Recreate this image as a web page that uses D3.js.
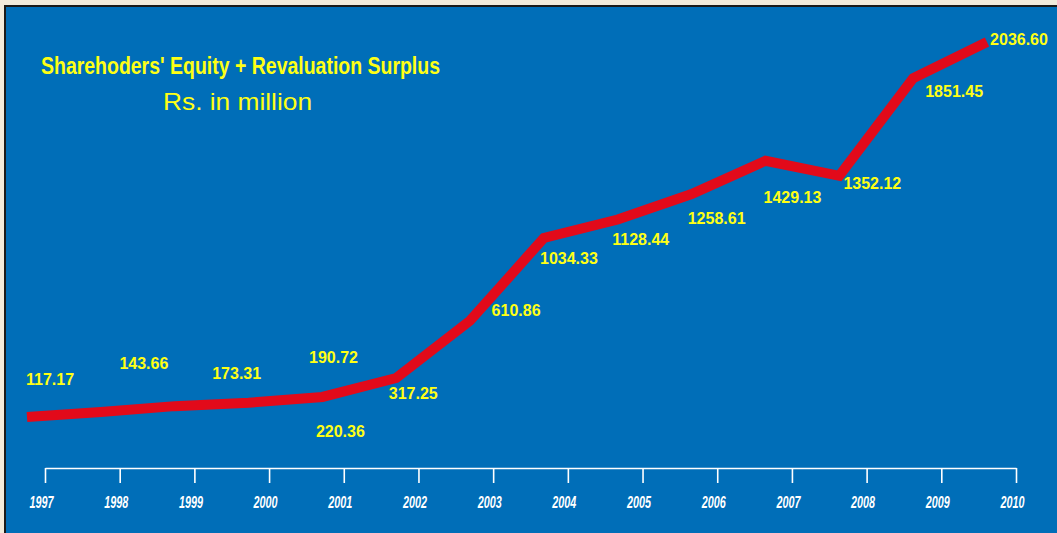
<!DOCTYPE html>
<html>
<head>
<meta charset="utf-8">
<script src="https://cdn.jsdelivr.net/npm/d3@7"></script>
<style>
  html, body { margin: 0; padding: 0; background: #f2ebdc; }
  svg { display: block; }
</style>
</head>
<body>
<svg id="chart" width="1057" height="533"></svg>
<script>
// Shareholders' equity + revaluation surplus, Rs. in million
const years = ["1997", "1998", "1999", "2000", "2001", "2002", "2003",
               "2004", "2005", "2006", "2007", "2008", "2009", "2010"];
const equity = [117.17, 143.66, 173.31, 190.72, 220.36, 317.25, 610.86,
                1034.33, 1128.44, 1258.61, 1429.13, 1352.12, 1851.45, 2036.60];
const valueLabels = ["117.17", "143.66", "173.31", "190.72", "220.36", "317.25", "610.86",
                     "1034.33", "1128.44", "1258.61", "1429.13", "1352.12", "1851.45", "2036.60"];

// label placement relative to each line vertex
const labelDx = [23, 43, 62, 85, 18, 17, 46, 25, 23, 25, 27, 33, 41, 32];
const labelDy = [-38, -49, -33, -45, 34, 15, -10, 20, 20, 24, 36, 7, 13, -3];

const W = 1057, H = 533;
const svg = d3.select("#chart");

// framed blue panel
svg.append("rect").attr("x", 0).attr("y", 0).attr("width", W).attr("height", H).attr("fill", "#f2ebdc");
svg.append("rect").attr("x", 4).attr("y", 5).attr("width", W).attr("height", H)
  .attr("fill", "#1a1a1a");
svg.append("rect").attr("x", 6).attr("y", 7).attr("width", W).attr("height", H)
  .attr("fill", "#006eb8");

// scales
const xLine = d3.scalePoint().domain(years).range([27, 987]);
const xAxis = d3.scalePoint().domain(years).range([45, 1016]);
const y = d3.scaleLinear().domain([0, 2100]).range([440, 29.7]);

// year axis
const axisG = svg.append("g")
  .attr("transform", "translate(0,468)")
  .call(d3.axisBottom(xAxis).tickSize(15).tickSizeOuter(0));
axisG.select(".domain").attr("stroke", "#ffffff").attr("stroke-width", 1.6);
axisG.selectAll(".tick line").attr("stroke", "#ffffff").attr("stroke-width", 1.6);
axisG.selectAll(".tick text")
  .attr("y", 0).attr("dy", null)
  .attr("transform", "translate(-4,40)")
  .attr("fill", "#ffffff")
  .attr("font-family", "'Liberation Sans Narrow', 'Arial Narrow', 'Liberation Sans', Arial, sans-serif")
  .attr("font-weight", "bold")
  .attr("font-style", "italic")
  .attr("font-size", 16)
  .attr("textLength", 24)
  .attr("lengthAdjust", "spacingAndGlyphs");

// equity line
const line = d3.line()
  .x((d, i) => xLine(years[i]))
  .y(d => y(d));
svg.append("path")
  .datum(equity)
  .attr("d", line)
  .attr("fill", "none")
  .attr("stroke", "#e20a1a")
  .attr("stroke-width", 10)
  .attr("stroke-linejoin", "miter")
  .attr("stroke-linecap", "butt");

// value labels
svg.append("g").selectAll("text")
  .data(equity)
  .join("text")
  .attr("x", (d, i) => xLine(years[i]) + labelDx[i])
  .attr("y", (d, i) => y(d) + labelDy[i])
  .attr("dy", "0.36em")
  .attr("text-anchor", "middle")
  .attr("fill", "#ffff14")
  .attr("font-family", "'Liberation Sans', Arial, sans-serif")
  .attr("font-weight", "bold")
  .attr("font-size", 16)
  .text((d, i) => valueLabels[i]);

// titles
svg.append("text")
  .attr("x", 41).attr("y", 74)
  .attr("fill", "#ffff14")
  .attr("font-family", "'Liberation Sans Narrow', 'Arial Narrow', 'Liberation Sans', Arial, sans-serif")
  .attr("font-weight", "bold")
  .attr("font-size", 24)
  .attr("textLength", 399)
  .attr("lengthAdjust", "spacingAndGlyphs")
  .text("Sharehoders' Equity + Revaluation Surplus");

svg.append("text")
  .attr("x", 163).attr("y", 110)
  .attr("fill", "#ffff14")
  .attr("font-family", "'Liberation Sans', Arial, sans-serif")
  .attr("font-size", 24)
  .attr("textLength", 149)
  .attr("lengthAdjust", "spacingAndGlyphs")
  .text("Rs. in million");
</script>
</body>
</html>
